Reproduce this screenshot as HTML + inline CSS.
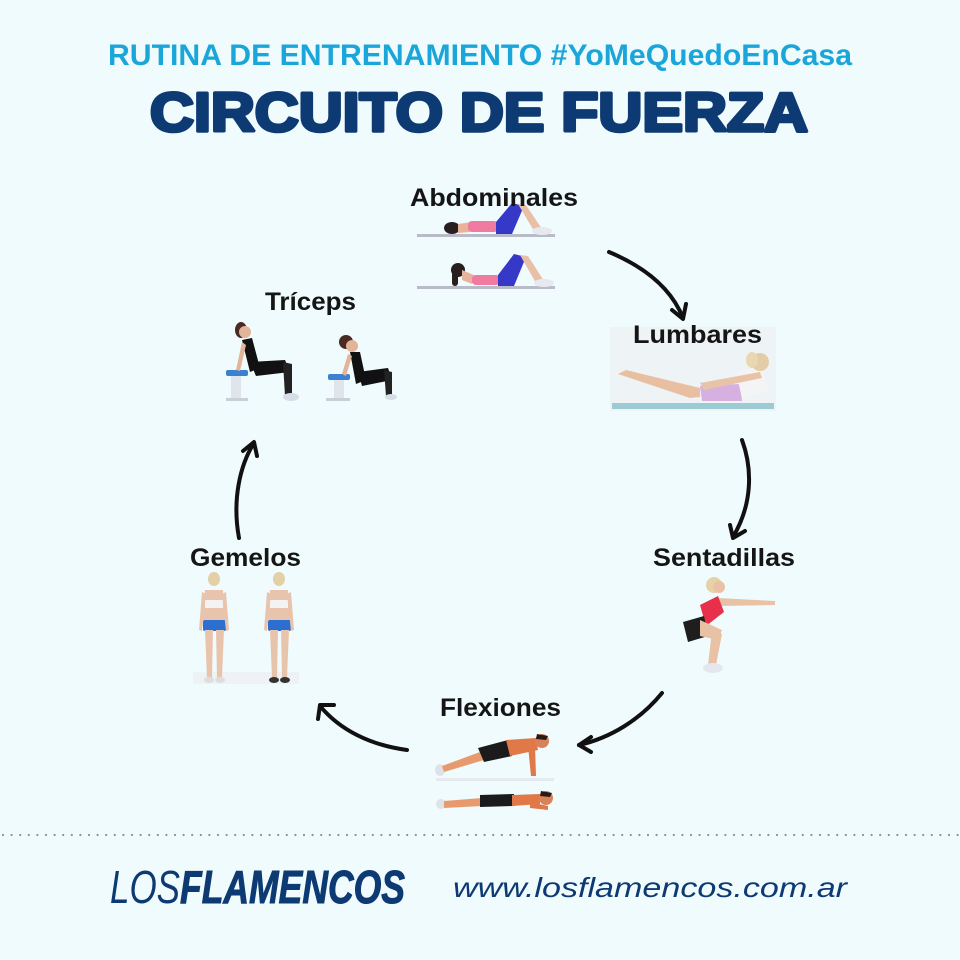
<!DOCTYPE html>
<html><head><meta charset="utf-8"><style>
html,body{margin:0;padding:0;background:#f0fbfd;}
svg{display:block;}
</style></head><body>
<svg width="960" height="960" viewBox="0 0 960 960" xmlns="http://www.w3.org/2000/svg">
<rect width="960" height="960" fill="#f0fbfd"/>
<!-- Titles -->
<text x="108" y="65" font-family="Liberation Sans, sans-serif" font-size="30" font-weight="bold" fill="#1ba6d9" textLength="744" lengthAdjust="spacingAndGlyphs">RUTINA DE ENTRENAMIENTO #YoMeQuedoEnCasa</text>
<text x="150" y="131" font-family="Liberation Sans, sans-serif" font-size="55" font-weight="bold" fill="#0d3a72" stroke="#0d3a72" stroke-width="3.5" stroke-linejoin="round" textLength="658" lengthAdjust="spacingAndGlyphs">CIRCUITO DE FUERZA</text>

<!-- Arrows -->
<g fill="none" stroke="#111" stroke-width="4" stroke-linecap="round" stroke-linejoin="round">
<path d="M609,252 C640,265 670,285 683,318"/>
<path d="M672,310 L683,319 L686,304"/>
<path d="M742,440 C753,470 752,505 733,537"/>
<path d="M730,525 L733,538 L745,531"/>
<path d="M662,693 C640,720 610,738 579,745"/>
<path d="M591,737 L579,745 L591,752"/>
<path d="M407,750 C370,745 340,730 320,706"/>
<path d="M318,719 L320,705 L334,705"/>
<path d="M239,538 C232,500 240,465 254,443"/>
<path d="M243,451 L254,442 L257,456"/>
</g>

<!-- Abdominales figure 1 -->
<g>
<rect x="417" y="234" width="138" height="3" fill="#b9bcc8"/>
<ellipse cx="452" cy="228" rx="8" ry="6" fill="#2a1f1f"/>
<path d="M458,224 L472,222 L470,232 L458,233 Z" fill="#e8b39a"/>
<rect x="468" y="221" width="30" height="11" rx="4" fill="#f07aa0"/>
<path d="M496,222 L512,203 L524,206 L512,234 L496,234 Z" fill="#3639c8"/>
<path d="M518,204 L526,205 L542,229 L534,231 Z" fill="#e8c0a8"/>
<ellipse cx="542" cy="231" rx="10" ry="4" fill="#e6e9ef"/>
</g>
<!-- Abdominales figure 2 -->
<g>
<rect x="417" y="286" width="138" height="3" fill="#b9bcc8"/>
<ellipse cx="458" cy="270" rx="7" ry="7" fill="#2a1f1f"/>
<rect x="452" y="272" width="6" height="14" rx="3" fill="#2a1f1f"/>
<path d="M462,270 L476,276 L472,284 L462,280 Z" fill="#e8b39a"/>
<rect x="472" y="275" width="28" height="10" rx="4" fill="#f07aa0"/>
<path d="M498,275 L514,254 L526,257 L514,286 L498,286 Z" fill="#3639c8"/>
<path d="M520,255 L528,256 L544,281 L536,283 Z" fill="#e8c0a8"/>
<ellipse cx="544" cy="283" rx="10" ry="4" fill="#e6e9ef"/>
</g>

<!-- Lumbares -->
<g>
<rect x="610" y="327" width="166" height="84" fill="#eef4f6"/>
<rect x="612" y="403" width="162" height="6" fill="#9ccbd3"/>
<path d="M618,374 L626,370 L700,388 L700,397 L690,398 Z" fill="#e9bfa2"/>
<path d="M700,386 L740,384 L742,401 L702,401 Z" fill="#d6b0e0"/>
<path d="M736,372 L762,366 L768,390 L742,398 Z" fill="#f4f4f4"/>
<path d="M700,383 L760,372 L762,378 L704,390 Z" fill="#e9c3a8"/>
<circle cx="760" cy="362" r="9" fill="#e4cda6"/>
<ellipse cx="752" cy="360" rx="6" ry="8" fill="#e8d7b0"/>
</g>

<!-- Tríceps figure 1 -->
<g>
<rect x="226" y="370" width="22" height="6" rx="2" fill="#3d7fd1"/>
<rect x="231" y="376" width="10" height="24" fill="#dfe5ea"/>
<rect x="226" y="398" width="22" height="3" fill="#c8cfd6"/>
<ellipse cx="241" cy="330" rx="6" ry="8" fill="#4a2a22"/>
<circle cx="245" cy="332" r="6" fill="#e2b49a"/>
<path d="M242,340 L252,338 L260,368 L250,372 Z" fill="#111"/>
<path d="M250,362 L285,360 L290,372 L256,376 Z" fill="#111"/>
<path d="M283,362 L292,364 L292,396 L285,396 Z" fill="#222"/>
<ellipse cx="291" cy="397" rx="8" ry="4" fill="#d5dde6"/>
<path d="M242,342 L236,370 L240,371 L246,345 Z" fill="#e2b49a"/>
</g>
<!-- Tríceps figure 2 -->
<g>
<rect x="328" y="374" width="22" height="6" rx="2" fill="#3d7fd1"/>
<rect x="334" y="380" width="10" height="20" fill="#dfe5ea"/>
<rect x="326" y="398" width="24" height="3" fill="#c8cfd6"/>
<ellipse cx="346" cy="342" rx="7" ry="7" fill="#4a2a22"/>
<circle cx="352" cy="346" r="6" fill="#e2b49a"/>
<path d="M350,352 L360,352 L366,380 L356,384 Z" fill="#111"/>
<path d="M358,372 L388,368 L392,380 L362,386 Z" fill="#111"/>
<path d="M384,370 L392,372 L392,396 L386,396 Z" fill="#222"/>
<ellipse cx="391" cy="397" rx="6" ry="3" fill="#d5dde6"/>
<path d="M348,354 L342,374 L346,376 L352,356 Z" fill="#e2b49a"/>
</g>

<!-- Gemelos -->
<g>
<rect x="193" y="672" width="106" height="12" fill="#eef2f4"/>
<ellipse cx="214" cy="579" rx="6" ry="7" fill="#e3d0a6"/>
<path d="M205,590 L223,590 L225,622 L203,622 Z" fill="#e9c4ad"/>
<rect x="205" y="600" width="18" height="8" fill="#f3f3f3"/>
<rect x="203" y="620" width="23" height="11" rx="2" fill="#2d6fd0"/>
<path d="M205,630 L213,630 L212,678 L207,678 Z" fill="#e9c4ad"/>
<path d="M216,630 L224,630 L222,678 L217,678 Z" fill="#e9c4ad"/>
<path d="M202,592 L199,630 L202,631 L206,594 Z" fill="#e9c4ad"/>
<path d="M226,592 L229,630 L226,631 L222,594 Z" fill="#e9c4ad"/>
<ellipse cx="209" cy="680" rx="5" ry="3" fill="#ddd"/>
<ellipse cx="220" cy="680" rx="5" ry="3" fill="#ddd"/>
</g>
<g transform="translate(65,0)">
<ellipse cx="214" cy="579" rx="6" ry="7" fill="#e3d0a6"/>
<path d="M205,590 L223,590 L225,622 L203,622 Z" fill="#e9c4ad"/>
<rect x="205" y="600" width="18" height="8" fill="#f3f3f3"/>
<rect x="203" y="620" width="23" height="11" rx="2" fill="#2d6fd0"/>
<path d="M205,630 L213,630 L212,678 L207,678 Z" fill="#e9c4ad"/>
<path d="M216,630 L224,630 L222,678 L217,678 Z" fill="#e9c4ad"/>
<path d="M202,592 L199,630 L202,631 L206,594 Z" fill="#e9c4ad"/>
<path d="M226,592 L229,630 L226,631 L222,594 Z" fill="#e9c4ad"/>
<ellipse cx="209" cy="680" rx="5" ry="3" fill="#333"/>
<ellipse cx="220" cy="680" rx="5" ry="3" fill="#333"/>
</g>

<!-- Sentadillas -->
<g>
<ellipse cx="714" cy="585" rx="8" ry="8" fill="#e6d2a8"/>
<circle cx="719" cy="587" r="6" fill="#e9c1a5"/>
<path d="M718,598 L775,601 L775,605 L718,606 Z" fill="#e9c1a5"/>
<path d="M700,605 L718,596 L724,612 L706,626 Z" fill="#e8304a"/>
<path d="M683,622 L704,616 L708,636 L688,642 Z" fill="#1e1e1e"/>
<path d="M700,620 L722,630 L718,640 L700,636 Z" fill="#e9c1a5"/>
<path d="M712,630 L722,634 L716,665 L708,665 Z" fill="#e9c1a5"/>
<ellipse cx="713" cy="668" rx="10" ry="5" fill="#e4e8ee"/>
</g>

<!-- Flexiones 1 -->
<g>
<rect x="436" y="778" width="118" height="3" fill="#e4eaee"/>
<ellipse cx="440" cy="770" rx="5" ry="6" fill="#dfe3e8"/>
<path d="M442,766 L480,752 L484,760 L444,772 Z" fill="#e89a6e"/>
<path d="M478,748 L508,740 L512,756 L484,762 Z" fill="#1b1b1b"/>
<path d="M506,740 L536,738 L538,750 L510,756 Z" fill="#e07848"/>
<circle cx="542" cy="741" r="7" fill="#d9825a"/>
<path d="M537,734 L548,736 L546,740 L536,739 Z" fill="#2a1a14"/>
<path d="M528,746 L535,746 L536,776 L531,776 Z" fill="#e07848"/>
</g>
<!-- Flexiones 2 -->
<g>
<ellipse cx="441" cy="804" rx="5" ry="5" fill="#dfe3e8"/>
<path d="M444,801 L482,798 L482,806 L444,808 Z" fill="#e89a6e"/>
<path d="M480,795 L514,794 L514,806 L480,807 Z" fill="#1b1b1b"/>
<path d="M512,795 L540,794 L540,804 L512,806 Z" fill="#e07848"/>
<circle cx="546" cy="798" r="7" fill="#d9825a"/>
<path d="M541,791 L552,793 L550,797 L540,796 Z" fill="#2a1a14"/>
<path d="M530,802 L548,806 L548,810 L530,808 Z" fill="#e07848"/>
</g>

<!-- Labels (drawn on top of images) -->
<g font-family="Liberation Sans, sans-serif" font-weight="bold" fill="#151515" font-size="25">
<text x="410" y="206" textLength="168" lengthAdjust="spacingAndGlyphs">Abdominales</text>
<text x="633" y="343" textLength="129" lengthAdjust="spacingAndGlyphs">Lumbares</text>
<text x="265" y="310" textLength="91" lengthAdjust="spacingAndGlyphs">Tríceps</text>
<text x="190" y="566" textLength="111" lengthAdjust="spacingAndGlyphs">Gemelos</text>
<text x="653" y="566" textLength="142" lengthAdjust="spacingAndGlyphs">Sentadillas</text>
<text x="440" y="716" textLength="121" lengthAdjust="spacingAndGlyphs">Flexiones</text>
</g>

<!-- Dotted separator -->
<line x1="3" y1="835" x2="960" y2="835" stroke="#8a9296" stroke-width="2.2" stroke-linecap="round" stroke-dasharray="0 8.6"/>

<!-- Footer -->
<text x="110" y="903" font-family="Liberation Sans, sans-serif" font-size="46" font-style="italic" fill="#0d3a72" textLength="70" lengthAdjust="spacingAndGlyphs">LOS</text>
<text x="180" y="903" font-family="Liberation Sans, sans-serif" font-size="46" font-style="italic" font-weight="bold" fill="#0d3a72" stroke="#0d3a72" stroke-width="1" textLength="225" lengthAdjust="spacingAndGlyphs">FLAMENCOS</text>
<text x="453" y="897" font-family="Liberation Sans, sans-serif" font-size="28" font-style="italic" fill="#0d3a72" textLength="394" lengthAdjust="spacingAndGlyphs">www.losflamencos.com.ar</text>
</svg>
</body></html>
